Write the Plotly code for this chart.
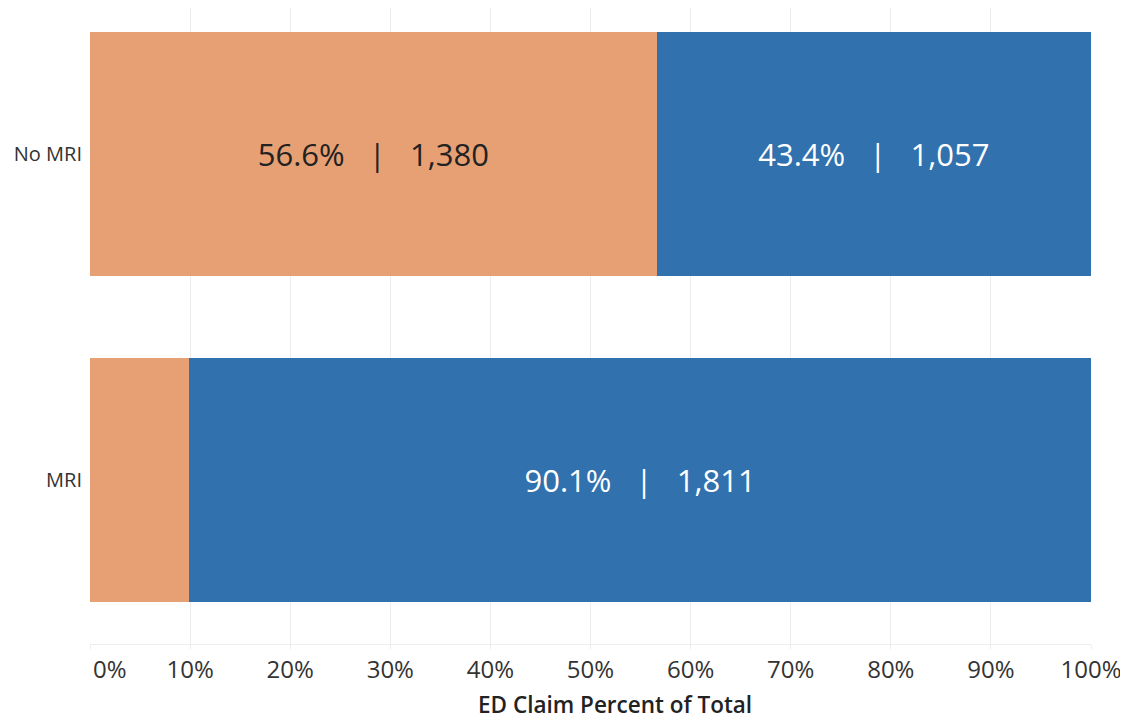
import plotly.graph_objects as go

categories = ["MRI", "No MRI"]
orange_pct = [9.9, 56.6]
orange_count = [199, 1380]
blue_pct = [90.1, 43.4]
blue_count = [1811, 1057]
tick_vals = [0, 10, 20, 30, 40, 50, 60, 70, 80, 90, 100]
tick_text = ["", "10%", "20%", "30%", "40%", "50%", "60%", "70%", "80%", "90%", "100%"]

ORANGE = "#E6A073"
BLUE = "#3171AD"
SEP = "\u00a0\u00a0\u00a0|\u00a0\u00a0\u00a0"


def fmt(p, c):
    return f"{p:.1f}%{SEP}{c:,}"


fig = go.Figure()
fig.add_trace(go.Bar(
    y=categories, x=orange_pct, orientation="h",
    marker=dict(color=ORANGE, line=dict(width=0)),
    text=[fmt(p, c) for p, c in zip(orange_pct, orange_count)],
    textposition="inside", insidetextanchor="middle", textangle=0,
    textfont=dict(color="#222222", size=31, family="Open Sans"),
    width=0.748, hoverinfo="skip",
))
fig.add_trace(go.Bar(
    y=categories, x=blue_pct, orientation="h",
    marker=dict(color=BLUE, line=dict(width=0)),
    text=[fmt(p, c) for p, c in zip(blue_pct, blue_count)],
    textposition="inside", insidetextanchor="middle", textangle=0,
    textfont=dict(color="#ffffff", size=31, family="Open Sans"),
    width=0.748, hoverinfo="skip",
))

W, H = 1120, 713
L, R, T, B = 82, 37, 0, 77
PW, PH = W - L - R, H - T - B

fig.update_layout(
    barmode="stack",
    width=W, height=H,
    margin=dict(l=L, r=R, t=T, b=B, pad=0),
    paper_bgcolor="#ffffff",
    plot_bgcolor="#ffffff",
    showlegend=False,
    uniformtext=dict(minsize=31, mode="hide"),
    font=dict(family="Open Sans", color="#333333"),
    xaxis=dict(
        range=[0, 100], tickvals=tick_vals, ticktext=tick_text,
        showgrid=True, gridcolor="#EDEDED", gridwidth=1,
        zeroline=False, showline=True, linecolor="#EDEDED", linewidth=1,
        ticks="outside", ticklen=4, tickcolor="#EDEDED",
        tickfont=dict(size=24, color="#333333", family="Open Sans"),
        fixedrange=True,
    ),
    yaxis=dict(
        categoryorder="array", categoryarray=categories,
        range=[-0.503, 1.448],
        showgrid=False, zeroline=False, showline=False,
        ticks="", ticklabelstandoff=7,
        tickfont=dict(size=20, color="#333333", family="Open Sans"),
        fixedrange=True,
    ),
    annotations=[
        dict(text="0%", x=0, y=0, xref="x", yref="paper", xanchor="left", yanchor="middle",
             yshift=-24, xshift=1, showarrow=False,
             font=dict(size=24, color="#333333", family="Open Sans")),
        dict(text="ED Claim Percent of Total", x=(607 - L) / PW, y=-60 / PH, xref="paper", yref="paper",
             xanchor="center", yanchor="middle", showarrow=False,
             font=dict(size=22.5, color="#222222", family="Open Sans", weight=600)),
    ],
)

fig.write_html("out.html")
